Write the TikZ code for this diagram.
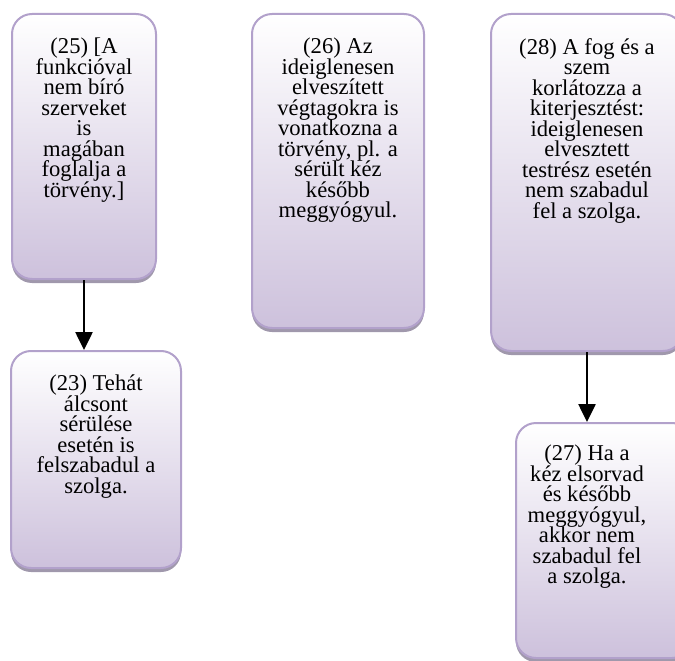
\documentclass[tikz,border=0pt]{standalone}
\usepackage{fontspec}
\setmainfont{Liberation Serif}
\usetikzlibrary{arrows.meta}
\definecolor{lavfill}{HTML}{CDC1DC}
\definecolor{lavline}{HTML}{B2A1CB}
\definecolor{lavshadow}{HTML}{A098AC}
\begin{document}
\begin{tikzpicture}[x=1pt,y=-1pt,
  box/.style={draw=lavline, line width=2pt, rounded corners=20pt,
    top color=white, bottom color=lavfill, inner sep=0pt,
    preaction={fill=lavshadow, transform canvas={yshift=-4pt}}},
  boxtext/.style={anchor=north, align=center, inner sep=0pt,
    font={\fontsize{22.6}{20.5}\selectfont\lineskiplimit=-20pt}},
  link/.style={line width=2.6pt, -{Triangle[length=18pt,width=17pt]}}]
\useasboundingbox (0,0) rectangle (675,661);
\clip (0,0) rectangle (675,661);

% boxes
\node[box, minimum width=144pt, minimum height=265pt] (b25) at (84,146.5) {};
\node[box, minimum width=172pt, minimum height=314pt] (b26) at (338,171) {};
\node[box, minimum width=192pt, minimum height=337pt] (b28) at (587,182.5) {};
\node[box, minimum width=170pt, minimum height=217pt] (b23) at (96,459.5) {};
\node[box, minimum width=176pt, minimum height=235pt] (b27) at (604,540.5) {};

% texts
\node[boxtext] (t25) at ([yshift=-25pt]b25.north) {(25) [A\\funkcióval\\nem bíró\\szerveket\\is\\magában\\foglalja a\\törvény.]};
\node[boxtext] (t26) at ([yshift=-25pt]b26.north) {(26) Az\\ideiglenesen\\elveszített\\végtagokra is\\vonatkozna a\\törvény, pl. a\\sérült kéz\\később\\meggyógyul.};
\node[boxtext] (t28) at ([yshift=-25pt]b28.north) {(28) A fog és a\\szem\\korlátozza a\\kiterjesztést:\\ideiglenesen\\elvesztett\\testrész esetén\\nem szabadul\\fel a szolga.};
\node[boxtext] (t23) at ([yshift=-25pt]b23.north -| b23.south) {(23) Tehát\\álcsont\\sérülése\\esetén is\\felszabadul a\\szolga.};
\node[boxtext] (t27) at ([yshift=-23pt]b27.north -| b28.south) {(27) Ha a\\kéz elsorvad\\és később\\meggyógyul,\\akkor nem\\szabadul fel\\a szolga.};

% connectors
\draw[link] (b25.south) -- (b25.south |- b23.north);
\draw[link] (b28.south) -- (b28.south |- b27.north);
\end{tikzpicture}
\end{document}
